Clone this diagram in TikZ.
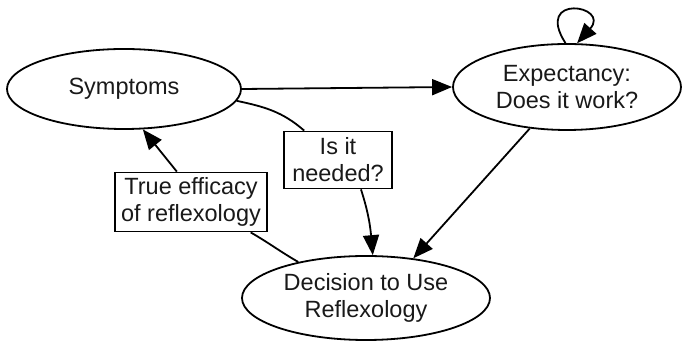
\documentclass[tikz,border=0pt]{standalone}
\usepackage{fontspec}
\setmainfont{Liberation Sans}
\usetikzlibrary{shapes.geometric,arrows.meta}
\begin{document}
\begin{tikzpicture}[x=1pt,y=1pt,
  every node/.style={font=\fontsize{23.5}{27}\selectfont, align=center, inner sep=0pt, line width=1.8pt, text=black!90},
  oval/.style={draw, ellipse},
  lbl/.style={draw, rectangle, fill=white},
  conn/.style={line width=1.8pt},
  arr/.style={conn, -{Triangle[length=20pt,width=16pt]}}
]
\useasboundingbox (0,0) rectangle (683,342);
\node[oval, minimum width=234pt, minimum height=80pt] (sym) at (124,253) {Symptoms};
\node[oval, minimum width=228pt, minimum height=86pt] (exp) at (567,255) {Expectancy:\\Does it work?};
\node[oval, minimum width=248pt, minimum height=84pt] (dec) at (366,44) {Decision to Use\\Reflexology};
\node[lbl, minimum width=152pt, minimum height=59pt] (eff) at (191,140) {True efficacy\\of reflexology};
\node[lbl, minimum width=108pt, minimum height=57pt] (need) at (338,182) {Is it\\needed?};

\draw[arr] (sym.east) -- (exp.west);
\draw[arr] (exp) -- (dec.40);
\draw[arr] (exp.92) .. controls +(-32,50) and +(34,38) .. (exp.77);
\draw[conn] (sym.-6) to[out=-12, in=139] (need.139);
\draw[arr] (need.-52) to[out=-72, in=95] (dec.81);
\draw[conn] (dec.152) to[out=150, in=-30] (eff.-27);
\draw[arr] (eff.115) -- (sym.-65);
\end{tikzpicture}
\end{document}
